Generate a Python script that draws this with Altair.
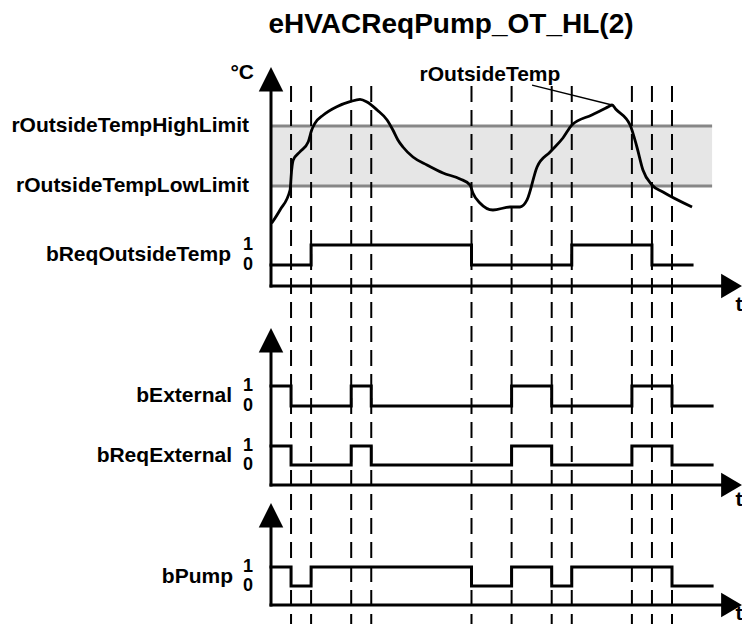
import altair as alt
import pandas as pd

# ---------------- data ----------------
title_text = "eHVACReqPump_OT_HL(2)"
events = [1, 2, 4, 5, 10, 12, 14, 15, 18, 19, 20]

temp_t = [0.03, 0.45, 0.95, 1.03, 1.11, 1.45, 1.86, 2.03, 2.19, 2.61, 3.28, 3.94, 4.44,
          4.79, 5.29, 5.79, 6.08, 6.33, 6.58, 7.08, 7.78, 8.58, 9.43, 9.93, 10.07, 10.42,
          11.07, 11.92, 12.42, 12.77, 13.27, 13.92, 14.56, 15.01, 16.0, 16.85, 17.01, 17.2,
          17.91, 18.25, 18.55, 19.0, 19.55, 21.0]
temp_v = [8.78, 11.0, 14.33, 17.67, 19.33, 20.72, 22.38, 24.33, 25.44, 26.83, 28.22, 29.05,
          29.45, 29.0, 27.67, 26.0, 24.33, 22.67, 21.5, 19.83, 18.5, 17.17, 16.17, 15.17,
          13.83, 12.17, 11.0, 11.5, 11.5, 12.67, 18.17, 20.67, 23.0, 25.17, 26.84, 28.23,
          28.5, 27.8, 25.17, 21.5, 17.67, 15.17, 14.0, 11.5]

high_limit = 25.0
low_limit = 15.0
limit_names = ["rOutsideTempHighLimit", "rOutsideTempLowLimit"]
band_end_t = 22.0

temp_label = "rOutsideTemp"
ann_t = [13.02, 17.01]
ann_v = [31.83, 28.5]
ann_label_t = 10.92
ann_label_v = 33.5

sig_names = ["bReqOutsideTemp", "bExternal", "bReqExternal", "bPump"]
bReqOutsideTemp_t = [0, 2, 10, 15, 19, 21]
bReqOutsideTemp_v = [0, 1, 0, 1, 0, 0]
bExternal_t = [0, 1, 4, 5, 12, 14, 18, 20, 22]
bExternal_v = [1, 0, 1, 0, 1, 0, 1, 0, 0]
bReqExternal_t = [0, 1, 4, 5, 12, 14, 18, 20, 22]
bReqExternal_v = [1, 0, 1, 0, 1, 0, 1, 0, 0]
bPump_t = [0, 1, 2, 10, 12, 14, 15, 20, 22]
bPump_v = [1, 0, 1, 0, 1, 0, 1, 0, 0]
signals = {
    "bReqOutsideTemp": (bReqOutsideTemp_t, bReqOutsideTemp_v),
    "bExternal": (bExternal_t, bExternal_v),
    "bReqExternal": (bReqExternal_t, bReqExternal_v),
    "bPump": (bPump_t, bPump_v),
}

# ---------------- layout (page pixels) ----------------
W, H, M = 734, 616, 8
X0 = 271 - M          # plot x of t = 0
PXT = 20.05           # pixels per time unit
HIGH_PY, LOW_PY = 126, 186
lanes = {"bReqOutsideTemp": (245, 265), "bExternal": (386, 406),
         "bReqExternal": (446, 465), "bPump": (567, 586)}
label_right = {"bReqOutsideTemp": 231, "bExternal": 232, "bReqExternal": 232, "bPump": 233}
panels = [(286, 67, 305), (485, 328, 500), (605, 503, 614)]  # axis y, arrow tip y, "t" y
ARROW_TIP_X = 742
FONT = "Liberation Sans"
FS = 21
FS_DIGIT = 18

xs = alt.Scale(domain=[-X0 / PXT, (W - X0) / PXT], nice=False, zero=False)


def pv(v):
    return alt.value(v - M)


def lane_scale(name):
    py1, py0 = lanes[name]
    amp = py0 - py1
    y0 = py0 - M
    return alt.Scale(domain=[(y0 - H) / amp, y0 / amp], nice=False, zero=False)


k = (LOW_PY - HIGH_PY) / (high_limit - low_limit)
yl = LOW_PY - M
ts = alt.Scale(domain=[low_limit - (H - yl) / k, low_limit + yl / k], nice=False, zero=False)

X = lambda f: alt.X(f, scale=xs, axis=None)
layers = []

# band
band = pd.DataFrame({"t0": [0], "t1": [band_end_t], "lo": [low_limit], "hi": [high_limit]})
layers.append(alt.Chart(band).mark_rect(color="#e6e6e6").encode(
    x=X("t0:Q"), x2="t1:Q", y=alt.Y("lo:Q", scale=ts, axis=None), y2="hi:Q"))

# limit lines
lim = pd.DataFrame({"name": limit_names, "v": [high_limit, low_limit], "t0": [0, 0],
                    "t1": [band_end_t, band_end_t]})
layers.append(alt.Chart(lim).mark_rule(color="#878787", strokeWidth=3).encode(
    x=X("t0:Q"), x2="t1:Q", y=alt.Y("v:Q", scale=ts, axis=None)))

# dashed event lines
ev = pd.DataFrame({"t": events})
layers.append(alt.Chart(ev).mark_rule(color="black", strokeWidth=2, strokeDash=[16, 8]).encode(
    x=X("t:Q"), y=pv(86), y2=pv(H + M)))

# axes with arrows
t_end = (ARROW_TIP_X - 20 - 271) / PXT
origin = pd.DataFrame({"t": [0], "t1": [t_end]})
up_shape = "M-1,1L1,1L0,-1Z"
right_shape = "M-1,-1L0.7,0L-1,1Z"
for ay, tip, ty in panels:
    layers.append(alt.Chart(origin).mark_rule(color="black", strokeWidth=3, strokeCap="square").encode(
        x=X("t:Q"), y=pv(ay), y2=pv(tip + 20)))
    layers.append(alt.Chart(origin).mark_rule(color="black", strokeWidth=3, strokeCap="square").encode(
        x=X("t:Q"), x2="t1:Q", y=pv(ay)))
    layers.append(alt.Chart(origin).mark_point(shape=up_shape, size=600, filled=True, color="black",
                                               opacity=1, strokeWidth=0).encode(
        x=X("t:Q"), y=pv(tip + 12.2)))
    layers.append(alt.Chart(origin).mark_point(shape=right_shape, size=600, filled=True, color="black",
                                               opacity=1, strokeWidth=0).encode(
        x=alt.value(ARROW_TIP_X - M - 8.6), y=pv(ay)))
    layers.append(alt.Chart(origin).mark_text(text="t", font=FONT, fontSize=FS, fontWeight="bold",
                                              align="center", baseline="middle").encode(
        x=alt.value(739 - M), y=pv(ty)))

# binary signals
for name in sig_names:
    tt, vv = signals[name]
    df = pd.DataFrame({"t": tt, "v": vv})
    sc = lane_scale(name)
    layers.append(alt.Chart(df).mark_line(interpolate="step-after", color="black", strokeWidth=3,
                                          strokeCap="square").encode(
        x=X("t:Q"), y=alt.Y("v:Q", scale=sc, axis=None)))
    dig = pd.DataFrame({"v": [1, 0], "txt": ["1", "0"]})
    layers.append(alt.Chart(dig).mark_text(font=FONT, fontSize=FS_DIGIT, fontWeight="bold",
                                           align="center", baseline="middle").encode(
        x=alt.value(248 - M), y=alt.Y("v:Q", scale=sc, axis=None), text="txt:N"))
    nm = pd.DataFrame({"v": [0.5], "txt": [name]})
    layers.append(alt.Chart(nm).mark_text(font=FONT, fontSize=FS, fontWeight="bold", align="right",
                                          baseline="middle").encode(
        x=alt.value(label_right[name] - M), y=alt.Y("v:Q", scale=sc, axis=None), text="txt:N"))

# temperature curve
tdf = pd.DataFrame({"t": temp_t, "v": temp_v})
layers.append(alt.Chart(tdf).mark_line(interpolate="monotone", color="black", strokeWidth=2.8).encode(
    x=X("t:Q"), y=alt.Y("v:Q", scale=ts, axis=None)))

# annotation leader
adf = pd.DataFrame({"t": ann_t, "v": ann_v})
layers.append(alt.Chart(adf).mark_line(color="black", strokeWidth=1.3).encode(
    x=X("t:Q"), y=alt.Y("v:Q", scale=ts, axis=None)))
al = pd.DataFrame({"t": [ann_label_t], "v": [ann_label_v], "txt": [temp_label]})
layers.append(alt.Chart(al).mark_text(font=FONT, fontSize=FS, fontWeight="bold", align="center",
                                      baseline="middle").encode(
    x=X("t:Q"), y=alt.Y("v:Q", scale=ts, axis=None), text="txt:N"))

# limit labels
layers.append(alt.Chart(lim).mark_text(font=FONT, fontSize=FS, fontWeight="bold", align="right",
                                       baseline="middle").encode(
    x=alt.value(249 - M), y=alt.Y("v:Q", scale=ts, axis=None), text="name:N"))

# unit label and title
layers.append(alt.Chart(origin).mark_text(text="°C", font=FONT, fontSize=FS, fontWeight="bold",
                                          align="right", baseline="middle").encode(
    x=alt.value(254 - M), y=pv(73)))
layers.append(alt.Chart(origin).mark_text(text=title_text, font=FONT, fontSize=28, fontWeight="bold",
                                          align="center", baseline="middle").encode(
    x=alt.value(451 - M), y=pv(25)))

chart = alt.layer(*layers).resolve_scale(y="independent").properties(
    width=W, height=H, padding=0, autosize=alt.AutoSizeParams(type="none"),
    background="white"
).configure_view(stroke=None)

chart.save("out.html", embed_options={"renderer": "svg", "actions": False})
